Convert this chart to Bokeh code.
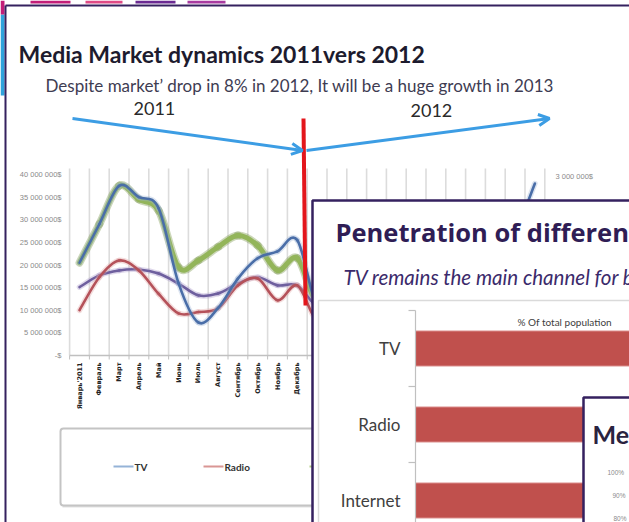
import numpy as np
from bokeh.plotting import figure
from bokeh.models import Range1d, Arrow, OpenHead
from bokeh.core.properties import value
from bokeh.embed import file_html
from bokeh.resources import INLINE

# ---------------- data ----------------
months = ["Январь'2011", "Февраль", "Март", "Апрель", "Май", "Июнь", "Июль",
          "Август", "Сентябрь", "Октябрь", "Ноябрь", "Декабрь",
          "Январь'2012", "Февраль", "Март", "Апрель", "Май", "Июнь", "Июль",
          "Август", "Сентябрь", "Октябрь", "Ноябрь", "Декабрь"]
# values in millions of $
tv = [20.5, 29.0, 37.5, 35.0, 32.5, 16.0, 7.3, 10.5, 17.0, 21.5, 23.0, 25.5,
      11.0, 14.0, 22.0, 20.0, 18.0, 12.0, 8.0, 9.0, 15.0, 19.0, 27.0, 38.0]
radio = [10.0, 17.3, 21.0, 18.8, 13.6, 9.3, 9.6, 10.4, 15.5, 17.0, 12.2, 15.5,
         8.0, 13.0, 16.0, 15.0, 12.0, 8.0, 8.0, 9.0, 13.0, 15.0, 12.0, 14.0]
press = [20.5, 29.0, 37.5, 34.5, 32.0, 19.5, 21.0, 24.0, 26.5, 24.3, 18.8, 21.5,
         12.0, 19.0, 25.0, 23.0, 21.0, 15.0, 14.0, 16.0, 20.0, 22.0, 19.0, 23.0]
outdoor = [15.1, 17.7, 18.8, 19.0, 18.1, 15.9, 13.3, 13.7, 15.9, 17.3, 15.5, 15.5,
           11.0, 13.0, 15.0, 15.0, 14.0, 12.0, 11.0, 11.0, 13.0, 14.0, 13.0, 14.0]
series_names = ["TV", "Radio", "Press", "Outdoor"]
y_ticks = [0, 5, 10, 15, 20, 25, 30, 35, 40]
y_tick_labels = ["-$", "5 000 000$", "10 000 000$", "15 000 000$", "20 000 000$",
                 "25 000 000$", "30 000 000$", "35 000 000$", "40 000 000$"]
right_axis_label = "3 000 000$"

pen_categories = ["TV", "Radio", "Internet"]
pen_values = [96, 84, 66]
media_ticks = ["100%", "90%", "80%"]

title1 = "Media Market dynamics 2011vers 2012"
subtitle1 = "Despite market\u2019 drop in 8% in 2012, It will be a huge growth in 2013"
title2 = "Penetration of different media"
subtitle2 = "TV remains the main channel for brand communication"
header2 = "% Of total population"
title3 = "Media"

# ---------------- layout (reference pixel space) ----------------
W, H = 629, 522
X_LO, X_HI = 0, 629
Y_LO, Y_HI = 0, 522

p = figure(width=W, height=H, output_backend="svg", toolbar_location=None,
           x_range=Range1d(X_LO, X_HI), y_range=Range1d(Y_HI, Y_LO),
           x_axis_type=None, y_axis_type=None, min_border=0)
p.grid.visible = False
p.outline_line_color = None
p.background_fill_color = "white"
p.border_fill_color = "white"

# line chart mapping: month i -> px X0 + DX*i ; value v (M$) -> px Y0 - DY*v
X0, DX = 79.0, 19.8
Y0, DY = 355.0, 4.525
p.extra_x_ranges["mx"] = Range1d(-(X0 - X_LO) / DX, (X_HI - X0) / DX)
p.extra_y_ranges["my"] = Range1d(-(Y_HI - Y0) / DY, (Y0 - Y_LO) / DY)

# bar chart mapping
BX0, BDX = 415.0, 2.85
BY0, BDY = 348.0, 76.0
p.extra_x_ranges["bx"] = Range1d(-(BX0 - X_LO) / BDX, (X_HI - BX0) / BDX)
p.extra_y_ranges["by"] = Range1d((Y_HI - BY0) / BDY, (Y_LO - BY0) / BDY)

F = value("Lato")

# ---------------- background fragments of other slides ----------------
p.quad(left=[30, 85, 135, 187], right=[70, 122, 175, 225], top=[0] * 4, bottom=[3] * 4,
       fill_color=["#c21d78", "#e04a86", "#6b2a92", "#a83aa0"], line_color=None)
p.quad(left=[0], right=[4], top=[14], bottom=[95], fill_color="#2fa3dc", line_color=None)
p.quad(left=[0], right=[4], top=[0], bottom=[14], fill_color="#c21d78", line_color=None)

# ---------------- slide 1 ----------------
p.segment(x0=[5, 5], y0=[5, 5], x1=[5, 629], y1=[522, 5], line_color="#35215f", line_width=2)

p.text(x=[18], y=[53], text=[title1], text_font=F, text_font_size="23px",
       text_font_style="bold", text_color="#1d1b2e", text_baseline="alphabetic")
p.text(x=[45], y=[85], text=[subtitle1], text_font=F, text_font_size="17px",
       text_color="#3e3c52", text_baseline="alphabetic")
p.text(x=[133, 410], y=[108, 110], text=["2011", "2012"], text_font=F,
       text_font_size="18px", text_color="#2a2a2a", text_baseline="alphabetic")

ac = "#3c9de4"
p.add_layout(Arrow(end=OpenHead(size=11, line_color=ac, line_width=3),
                   x_start=72, y_start=118, x_end=302, y_end=150,
                   line_color=ac, line_width=3))
p.add_layout(Arrow(end=OpenHead(size=11, line_color=ac, line_width=3),
                   x_start=306, y_start=150, x_end=549, y_end=118,
                   line_color=ac, line_width=3))

n = len(months)
idx = np.arange(n)
bounds = np.arange(-0.5, n, 1.0)
# grid lines
p.segment(x0=bounds, y0=[168] * len(bounds), x1=bounds, y1=[355] * len(bounds),
          x_range_name="mx", line_color="#dcdcdc", line_width=1.6)
# axis + ticks
p.segment(x0=[-0.5], y0=[355], x1=[n - 0.5], y1=[355], x_range_name="mx",
          line_color="#c0c0c0", line_width=1.5)
p.segment(x0=bounds, y0=[355] * len(bounds), x1=bounds, y1=[359] * len(bounds),
          x_range_name="mx", line_color="#c0c0c0", line_width=1)
# y tick labels
p.text(x=[61] * len(y_ticks), y=y_ticks, text=y_tick_labels, y_range_name="my",
       text_font=value("Liberation Sans"), text_font_size="7.5px",
       text_color="#8a8a8a", text_align="right", text_baseline="middle")
p.text(x=[555], y=[176], text=[right_axis_label], text_font=value("Liberation Sans"),
       text_font_size="7.5px", text_color="#8a8a8a", text_baseline="middle")
# month labels
p.text(x=idx, y=[362] * n, text=months, x_range_name="mx", angle=np.pi / 2,
       text_font=value("DejaVu Sans"), text_font_size="6.5px", text_font_style="bold",
       text_color="#222222", text_align="right", text_baseline="middle")


def smooth(xs, ys):
    xs = np.asarray(xs, float)
    ys = np.asarray(ys, float)
    m = len(xs)
    out = {k: [] for k in ("x0", "y0", "x1", "y1", "cx0", "cy0", "cx1", "cy1")}
    for i in range(m - 1):
        a = max(i - 1, 0)
        b = min(i + 2, m - 1)
        out["x0"].append(xs[i]); out["y0"].append(ys[i])
        out["x1"].append(xs[i + 1]); out["y1"].append(ys[i + 1])
        out["cx0"].append(xs[i] + (xs[i + 1] - xs[a]) / 6)
        out["cy0"].append(ys[i] + (ys[i + 1] - ys[a]) / 6)
        out["cx1"].append(xs[i + 1] - (xs[b] - xs[i]) / 6)
        out["cy1"].append(ys[i + 1] - (ys[b] - ys[i]) / 6)
    return out


def curve(vals, color, width, shadow):
    seg = smooth(idx, vals)
    p.bezier(**seg, x_range_name="mx", y_range_name="my", line_color=shadow,
             line_width=width + 3, line_alpha=0.35, line_cap="round")
    p.bezier(**seg, x_range_name="mx", y_range_name="my", line_color=color,
             line_width=width, line_cap="round")


curve(press, "#93b55a", 5, "#6d8c3a")
curve(outdoor, "#6e5f9e", 2.6, "#a596c8")
curve(radio, "#b5525a", 2.6, "#e0a0a0")
curve(tv, "#4a6ea8", 2.6, "#9ab2d4")

# red divider
p.segment(x0=[303], y0=[118], x1=[305], y1=[305], line_color="#e3161c", line_width=4)

# legend box
p.quad(left=[62], right=[700], top=[430], bottom=[507], fill_color="#d8d8d8",
       line_color=None, fill_alpha=0.8)
p.quad(left=[60], right=[700], top=[428], bottom=[505], fill_color="white",
       line_color="#c4c4c4", line_width=2, border_radius=3)
leg_colors = ["#95b3d7", "#d99694", "#b3cc85", "#b2a1c7"]
leg_x = [113, 203, 309, 400]
p.segment(x0=leg_x, y0=[466] * 4, x1=[x + 20 for x in leg_x], y1=[466] * 4,
          line_color=leg_colors, line_width=2)
p.text(x=[x + 21 for x in leg_x], y=[466] * 4, text=series_names, text_font=F,
       text_font_size="10px", text_font_style="bold", text_color="#333333",
       text_baseline="middle")

# ---------------- slide 2 ----------------
p.quad(left=[312], right=[660], top=[200], bottom=[560], fill_color="white",
       line_color="#35215f", line_width=2.5)
p.text(x=[335], y=[231], text=[title2], text_font=value("Open Sans"),
       text_font_size="25.5px", text_font_style="bold", text_color="#2f1d55",
       text_baseline="alphabetic")
p.text(x=[343], y=[276], text=[subtitle2], text_font=F, text_font_size="20.5px",
       text_font_style="italic", text_color="#3b2a6b", text_baseline="alphabetic")
p.quad(left=[318], right=[660], top=[300], bottom=[560], fill_color="white",
       line_color="#dadada", line_width=1.5)
p.text(x=[517], y=[321], text=[header2], text_font=F, text_font_size="10px",
       text_color="#404040", text_baseline="alphabetic")
cat_idx = np.arange(len(pen_categories))
p.hbar(y=cat_idx, left=0, right=pen_values, height=0.46, x_range_name="bx",
       y_range_name="by", fill_color="#c0504d", line_color="#d98a88", line_width=1)
p.segment(x0=[BX0], y0=[-0.5], x1=[BX0], y1=[3.5], y_range_name="by",
          line_color="#c0c0c0", line_width=1.2)
tb = np.arange(-0.5, len(pen_categories), 1.0)
p.segment(x0=[BX0 - 7] * len(tb), y0=tb, x1=[BX0] * len(tb), y1=tb,
          y_range_name="by", line_color="#c0c0c0", line_width=1.2)
p.text(x=[400] * len(pen_categories), y=cat_idx, text=pen_categories,
       y_range_name="by", text_font=F, text_font_size="17px", text_color="#404040",
       text_align="right", text_baseline="middle")

# ---------------- slide 3 ----------------
p.quad(left=[583], right=[660], top=[397], bottom=[560], fill_color="white",
       line_color="#35215f", line_width=2.5)
p.text(x=[592], y=[433], text=[title3], text_font=F, text_font_size="25px",
       text_font_style="bold", text_color="#2a2340", text_baseline="alphabetic")
p.text(x=[607, 612, 613], y=[472, 495, 518], text=media_ticks,
       text_font=value("Liberation Sans"), text_font_size="6.5px",
       text_color="#8a8a8a", text_baseline="middle")

open("out.html", "w").write(file_html(p, INLINE))
